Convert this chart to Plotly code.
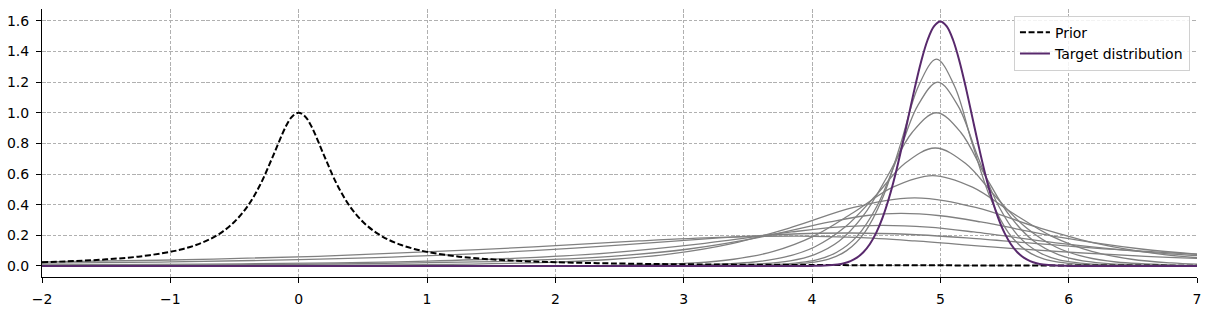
import plotly.graph_objects as go

# ---------------- data ----------------
prior_x = [-2, -1.75, -1.5, -1.25, -1, -0.9, -0.8, -0.7, -0.6, -0.5, -0.4, -0.3, -0.2, -0.1, -0.05,
           0, 0.05, 0.1, 0.2, 0.3, 0.4, 0.5, 0.6, 0.7, 0.8, 0.9, 1, 1.25, 1.5, 1.75, 2, 2.5, 3, 4, 5, 6, 7]
prior_y = [0.0247, 0.032, 0.0431, 0.0609, 0.092, 0.1112, 0.1367, 0.1713, 0.2196, 0.2884, 0.3877, 0.5296, 0.717, 0.9102, 0.976,
           1.0, 0.976, 0.9102, 0.717, 0.5296, 0.3877, 0.2884, 0.2196, 0.1713, 0.1367, 0.1112, 0.092, 0.0609, 0.0431, 0.032, 0.0247, 0.016, 0.0111, 0.0063, 0.004, 0.0028, 0.0021]

target_x = [-2, 0, 2, 3, 3.5, 4, 4.1, 4.2, 4.25, 4.3, 4.35, 4.4, 4.45, 4.5, 4.55, 4.6, 4.65, 4.7, 4.75, 4.8, 4.85, 4.9, 4.95,
            5.0, 5.05, 5.1, 5.15, 5.2, 5.25, 5.3, 5.35, 5.4, 5.45, 5.5, 5.55, 5.6, 5.65, 5.7, 5.75, 5.8, 5.9, 6, 6.5, 7]
target_y = [0, 0, 0, 0, 0, 0.0005, 0.0024, 0.0095, 0.0177, 0.0317, 0.0543, 0.0896, 0.142, 0.216, 0.316, 0.4437, 0.599, 0.777, 0.968, 1.159, 1.333, 1.473, 1.564,
            1.596, 1.564, 1.473, 1.333, 1.159, 0.968, 0.777, 0.599, 0.4437, 0.316, 0.216, 0.142, 0.0896, 0.0543, 0.0317, 0.0177, 0.0095, 0.0024, 0.0005, 0, 0]

g1_x = [-2, 3.01, 3.57, 3.85, 4.13, 4.27, 4.41, 4.55, 4.69, 4.83, 4.97, 5.11, 5.25, 5.39, 5.53, 5.67, 5.81, 6.09, 6.37, 6.93, 7]
g1_y = [0, 0.0002, 0.0023, 0.0096, 0.045, 0.100, 0.218, 0.443, 0.795, 1.175, 1.35, 1.175, 0.795, 0.443, 0.218, 0.100, 0.045, 0.0096, 0.0023, 0.0002, 0.0002]

g2_x = [-2, 2.775, 3.405, 3.72, 4.035, 4.193, 4.35, 4.508, 4.665, 4.823, 4.98, 5.138, 5.295, 5.453, 5.61, 5.768, 5.925, 6.24, 6.555, 7]
g2_y = [0, 0.0002, 0.002, 0.0085, 0.0403, 0.0893, 0.193, 0.393, 0.706, 1.045, 1.2, 1.045, 0.706, 0.393, 0.193, 0.0893, 0.0403, 0.0085, 0.002, 0.0005]

g3_x = [-2, 2.31, 3.07, 3.45, 3.83, 4.02, 4.21, 4.40, 4.59, 4.78, 4.97, 5.16, 5.35, 5.54, 5.73, 5.92, 6.11, 6.49, 6.87, 7]
g3_y = [0, 0.00015, 0.0017, 0.0071, 0.0336, 0.0744, 0.161, 0.328, 0.589, 0.871, 1.0, 0.871, 0.589, 0.328, 0.161, 0.0744, 0.0336, 0.0071, 0.0017, 0.0012]

g4_x = [-2, 1.67, 2.61, 3.08, 3.55, 3.785, 4.02, 4.255, 4.49, 4.725, 4.96, 5.195, 5.43, 5.665, 5.90, 6.135, 6.37, 6.84, 7]
g4_y = [0, 0.0001, 0.0013, 0.0055, 0.0259, 0.0573, 0.124, 0.252, 0.453, 0.670, 0.77, 0.670, 0.453, 0.252, 0.124, 0.0573, 0.0259, 0.0055, 0.0034]

g5_x = [-2, 0.60, 1.84, 2.46, 3.08, 3.39, 3.70, 4.01, 4.32, 4.63, 4.94, 5.25, 5.56, 5.87, 6.18, 6.49, 6.80, 7]
g5_y = [0, 0.0001, 0.001, 0.0042, 0.0198, 0.0439, 0.0951, 0.193, 0.347, 0.514, 0.59, 0.514, 0.347, 0.193, 0.0951, 0.0439, 0.0198, 0.012]

g6_x = [-2.8, -0.9, 0.05, 1.0, 1.95, 2.425, 2.9, 3.375, 3.85, 4.325, 4.8, 5.275, 5.75, 6.225, 6.7, 7.175]
g6_y = [0.0004, 0.0014, 0.0031, 0.008, 0.0234, 0.0423, 0.0788, 0.146, 0.2545, 0.382, 0.445, 0.382, 0.2545, 0.146, 0.0788, 0.0423]

g7_x = [-2, -1.91, -0.81, 0.29, 1.39, 1.94, 2.49, 3.04, 3.59, 4.14, 4.415, 4.69, 5.0, 5.315, 5.94, 6.565, 7.19]
g7_y = [0.0040, 0.0042, 0.0069, 0.0127, 0.0266, 0.0408, 0.0659, 0.1108, 0.1866, 0.2874, 0.3276, 0.343, 0.3276, 0.2874, 0.1866, 0.1108, 0.0659]

g8_x = [-2, -1.13, 0.29, 1.0, 1.71, 2.42, 3.13, 3.84, 4.195, 4.55, 4.905, 5.26, 5.97, 6.68, 7.39]
g8_y = [0.0069, 0.0098, 0.0205, 0.0315, 0.0509, 0.0856, 0.1442, 0.222, 0.2531, 0.265, 0.2531, 0.222, 0.1442, 0.0856, 0.0509]

g9_x = [-2.15, -1.075, 0.0, 1.075, 2.15, 3.225, 3.7625, 4.3, 4.775, 5.25, 6.2, 7.15]
g9_y = [0.0167, 0.0256, 0.0413, 0.0694, 0.117, 0.1802, 0.2053, 0.215, 0.2053, 0.1802, 0.117, 0.0694]

g10_x = [-2.35, -1.1, 0.15, 1.4, 2.65, 3.275, 3.9, 4.35, 4.8, 5.7, 6.6, 7.5]
g10_y = [0.0232, 0.0374, 0.063, 0.1061, 0.1634, 0.1862, 0.195, 0.1862, 0.1634, 0.1061, 0.063, 0.0374]

gray_curves = [(g1_x, g1_y), (g2_x, g2_y), (g3_x, g3_y), (g4_x, g4_y), (g5_x, g5_y),
               (g6_x, g6_y), (g7_x, g7_y), (g8_x, g8_y), (g9_x, g9_y), (g10_x, g10_y)]

x_ticks = [-2, -1, 0, 1, 2, 3, 4, 5, 6, 7]
y_ticks = [0.0, 0.2, 0.4, 0.6, 0.8, 1.0, 1.2, 1.4, 1.6]

# ---------------- figure ----------------
fig = go.Figure()

for gx, gy in gray_curves:
    fig.add_trace(go.Scatter(x=gx, y=gy, mode="lines", showlegend=False, hoverinfo="skip",
                             line=dict(color="#808080", width=1.3, shape="spline", smoothing=1.0)))

fig.add_trace(go.Scatter(x=prior_x, y=prior_y, mode="lines", name="Prior",
                         line=dict(color="black", width=2, dash="6px,2.6px", shape="spline", smoothing=1.0)))
fig.add_trace(go.Scatter(x=target_x, y=target_y, mode="lines", name="Target distribution",
                         line=dict(color="#58296c", width=2, shape="spline", smoothing=1.0)))

axis_common = dict(
    showline=True, linecolor="black", linewidth=1.1, mirror=False,
    ticks="outside", ticklen=5, tickwidth=1.1, tickcolor="black",
    showgrid=True, gridcolor="#b0b0b0", gridwidth=0.8, griddash="3.5px,1.8px",
    zeroline=False, automargin=False,
    tickfont=dict(family="DejaVu Sans", size=14, color="black"),
)

fig.update_xaxes(range=[-2, 7], tickvals=x_ticks, ticktext=[("\u2212" + str(-v)) if v < 0 else str(v) for v in x_ticks],
                 ticklabelstandoff=4, **axis_common)
fig.update_yaxes(range=[-0.072, 1.677], tickvals=y_ticks, ticktext=[f"{v:.1f}" for v in y_ticks],
                 ticklabelstandoff=4, **axis_common)

fig.update_layout(
    width=1211, height=311,
    margin=dict(l=42, r=14, t=9, b=34),
    paper_bgcolor="white", plot_bgcolor="white",
    font=dict(family="DejaVu Sans", size=14, color="black"),
    legend=dict(x=0.9939, y=0.975, xanchor="right", yanchor="top",
                bgcolor="rgba(255,255,255,0.85)", bordercolor="#d0d0d0", borderwidth=1,
                font=dict(family="DejaVu Sans", size=14), tracegroupgap=0, itemwidth=30),
)

fig.write_html("out.html", config={"displayModeBar": False})
